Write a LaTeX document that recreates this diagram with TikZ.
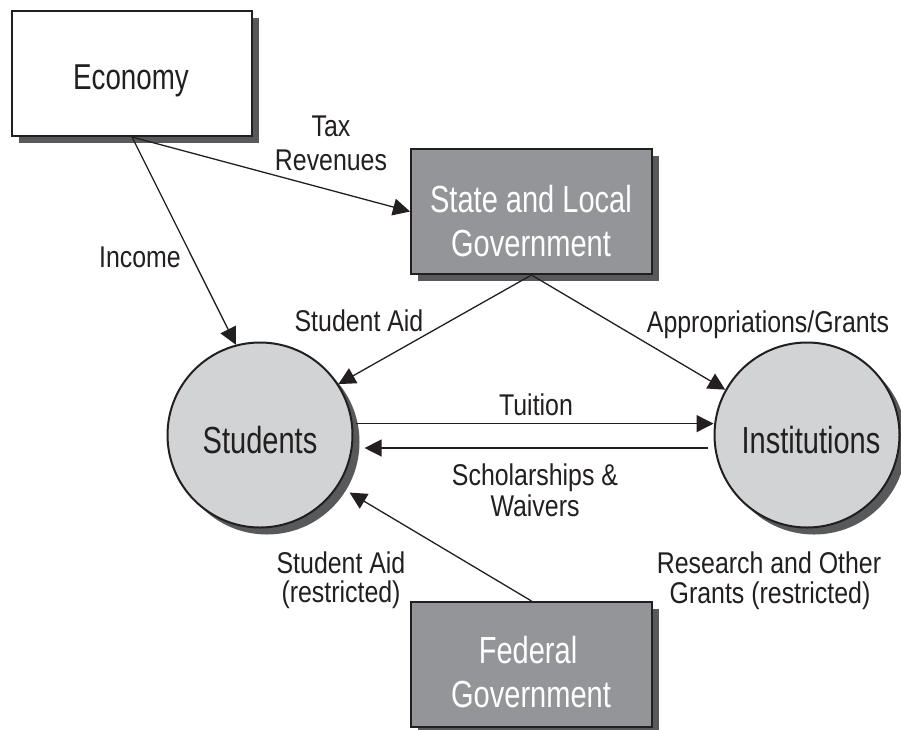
\documentclass[tikz,border=0pt]{standalone}
\usepackage{fontspec}
\setmainfont{Liberation Sans}[FakeStretch=0.83]
\newfontfamily\nodefont{Liberation Sans}[FakeStretch=0.77]
\usetikzlibrary{arrows.meta,shadows}
\definecolor{ink}{HTML}{231F20}
\definecolor{boxgray}{HTML}{939598}
\definecolor{shadowgray}{HTML}{58595B}
\definecolor{circgray}{HTML}{D1D3D4}
\begin{document}
\begin{tikzpicture}[x=1pt,y=-1pt,
  shd/.style={drop shadow={shadow xshift=7pt,shadow yshift=-7pt,fill=shadowgray,opacity=1}},
  wbox/.style={draw=ink,line width=2pt,fill=white,minimum width=240pt,minimum height=125pt,inner sep=0pt,shd},
  gbox/.style={draw=ink,line width=2pt,fill=boxgray,minimum width=241pt,minimum height=125pt,inner sep=0pt,shd},
  circ/.style={circle,draw=ink,line width=2pt,fill=circgray,minimum size=185pt,inner sep=0pt,shd},
  ntext/.style={font=\nodefont\fontsize{37.7}{40}\selectfont,text=ink,anchor=base,inner sep=0pt},
  wtext/.style={ntext,text=white},
  ltext/.style={font=\fontsize{30}{32}\selectfont,text=ink,anchor=base,inner sep=0pt},
  arr/.style={draw=ink,line width=1.3pt,-{Triangle[length=17pt,width=17pt]}}
]
\useasboundingbox (0,0) rectangle (901,729);
\fill[white] (0,0) rectangle (901,729);

% nodes
\node[wbox] (econ) at (132,73.5) {};
\node[gbox] (state) at (531.5,211.5) {};
\node[gbox] (fed) at (531.5,664.5) {};
\node[circ] (stud) at (260,435) {};
\node[circ] (inst) at (807,435) {};

% node texts
\node[ntext,font=\nodefont\fontsize{36}{38}\selectfont] (econtxt) at (131,89) {Economy};
\node[wtext] (statetxt1) at (531,212) {State and Local};
\node[wtext] (statetxt2) at (531,256) {Government};
\node[wtext] (fedtxt1) at (528,663) {Federal};
\node[wtext] (fedtxt2) at (531,707) {Government};
\node[ntext] (studtxt) at (260,453) {Students};
\node[ntext] (insttxt) at (811,453) {Institutions};

% connectors
\draw[arr] (econ.south) -- (state.west);
\draw[arr] (econ.south) -- (stud.105);
\draw[arr] (state.south) -- (stud.33);
\draw[arr] (state.south) -- (inst.151);
\draw[arr,shorten <=3pt] (stud.7) -- (stud.7 -| inst.west);
\draw[arr,shorten <=6pt,shorten >=12pt] (inst.188) -- (stud.-8);
\draw[arr,shorten >=13pt] (fed.north) -- (stud.-33.5);

% labels
\node[ltext] (tax1) at (331,136) {Tax};
\node[ltext] (tax2) at (331,170) {Revenues};
\node[ltext] (income) at (140,267) {Income};
\node[ltext] (aid1) at (359,331) {Student Aid};
\node[ltext] (approp) at (768,332) {Appropriations/Grants};
\node[ltext] (tuition) at (536,415) {Tuition};
\node[ltext] (schol1) at (535,485) {Scholarships \&};
\node[ltext] (schol2) at (535,516) {Waivers};
\node[ltext] (raid1) at (341,573) {Student Aid};
\node[ltext] (raid2) at (341,602) {(restricted)};
\node[ltext] (res1) at (769,573) {Research and Other};
\node[ltext] (res2) at (770,603) {Grants (restricted)};
\end{tikzpicture}
\end{document}
